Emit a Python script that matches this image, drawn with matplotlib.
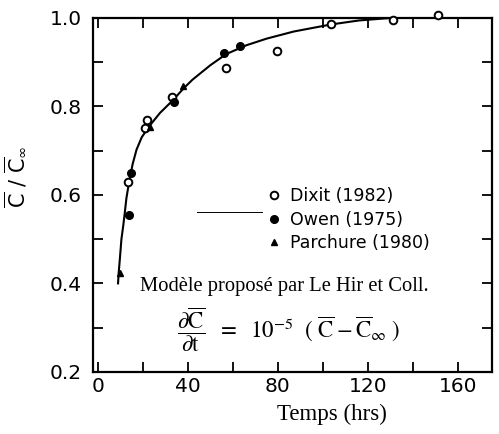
import matplotlib
matplotlib.use("Agg")
import matplotlib.pyplot as plt
from matplotlib.ticker import MultipleLocator

# measured points
dixit_t = [13.3, 21.0, 22.0, 33.0, 57.0, 79.6, 103.6, 131.0, 151.0]
dixit_c = [0.630, 0.750, 0.770, 0.820, 0.887, 0.925, 0.986, 0.995, 1.007]

owen_t = [13.8, 14.7, 34.0, 56.0, 63.0]
owen_c = [0.555, 0.650, 0.810, 0.920, 0.937]

parchure_t = [9.8, 23.0, 38.0]
parchure_c = [0.424, 0.754, 0.845]

# model curve (Le Hir et Coll.)
curve_t = [9.0, 9.3, 9.8, 10.5, 11.3, 12.0, 12.7, 14.0, 15.5, 17.2, 19.5, 23.0, 27.6,
           33.0, 38.0, 42.0, 50.0, 57.0, 66.0, 75.0, 87.0, 103.6, 116.0, 131.0, 150.0]
curve_c = [0.400, 0.425, 0.455, 0.500, 0.530, 0.560, 0.592, 0.632, 0.670, 0.702,
           0.730, 0.756, 0.785, 0.812, 0.840, 0.860, 0.893, 0.918, 0.938, 0.953,
           0.969, 0.985, 0.994, 1.000, 1.004]

plt.rcParams['font.family'] = ['DejaVu Sans']

fig = plt.figure(figsize=(4.99, 4.34), dpi=100)
ax = fig.add_axes([0.186, 0.143, 0.800, 0.816])

ax.plot(curve_t, curve_c, color='black', lw=1.5, zorder=2)
ax.plot(dixit_t, dixit_c, 'o', ls='none', mfc='white', mec='black', mew=1.4, ms=5.5,
        label='Dixit (1982)', zorder=3, clip_on=False)
ax.plot(owen_t, owen_c, 'o', ls='none', color='black', ms=5.5,
        label='Owen (1975)', zorder=3, clip_on=False)
ax.plot(parchure_t, parchure_c, '^', ls='none', color='black', ms=5,
        label='Parchure (1980)', zorder=3, clip_on=False)

# line sample left of the legend
ax.plot([0.26, 0.425], [0.452, 0.452], transform=ax.transAxes, color='black', lw=0.7)

ax.legend(loc='center left', bbox_to_anchor=(0.437, 0.43), frameon=False,
          fontsize=12.5, handlelength=0.8, handletextpad=0.5, labelspacing=0.33,
          borderpad=0, borderaxespad=0)

ax.text(0.118, 0.24, 'Modèle proposé par Le Hir et Coll.', transform=ax.transAxes,
        family='Liberation Serif', fontsize=14.8, va='center', ha='left')
ax.text(0.21, 0.12,
        r'$\dfrac{\partial\overline{\mathrm{C}}}{\partial\mathrm{t}}\ \ =\ \ 10^{-5}\ \ (\ \overline{\mathrm{C}}-\overline{\mathrm{C}}_{\infty}\ )$',
        transform=ax.transAxes, fontsize=16.5, va='center', ha='left',
        math_fontfamily='stix')

ax.set_xlim(-2.2, 175)
ax.set_ylim(0.2, 1.0)
ax.xaxis.set_major_locator(MultipleLocator(40))
ax.xaxis.set_minor_locator(MultipleLocator(20))
ax.yaxis.set_major_locator(MultipleLocator(0.2))
ax.yaxis.set_minor_locator(MultipleLocator(0.1))
ax.tick_params(which='both', direction='in', top=True, right=True, length=7,
               width=1.3, labelsize=14.5)
ax.tick_params(axis='y', pad=8)
ax.tick_params(axis='x', pad=4)
for s in ax.spines.values():
    s.set_linewidth(1.6)

ax.set_xlabel('Temps (hrs)', family='Liberation Serif', fontsize=16.5)
ax.xaxis.set_label_coords(0.60, -0.09)
ax.set_ylabel(r'$\overline{\mathrm{C}}\ /\ \overline{\mathrm{C}}_{\infty}$', fontsize=15)
ax.yaxis.set_label_coords(-0.165, 0.55)

fig.savefig('out.png', dpi=100)
